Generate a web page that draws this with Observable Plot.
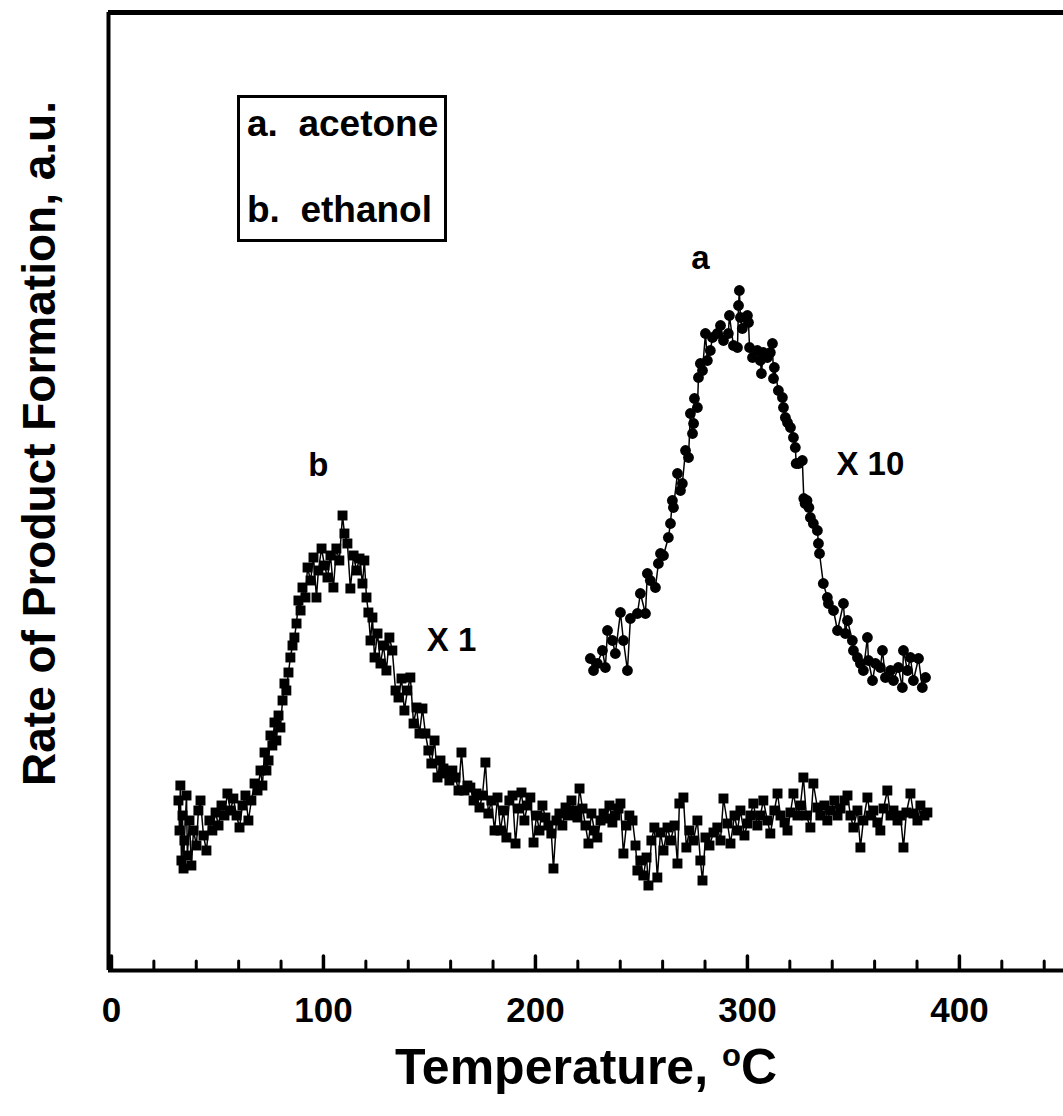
<!DOCTYPE html>
<html>
<head>
<meta charset="utf-8">
<script src="https://cdn.jsdelivr.net/npm/d3@7"></script>
<script src="https://cdn.jsdelivr.net/npm/@observablehq/plot@0.6"></script>
<style>
  body { margin: 0; background: #fff; }
  #wrap { position: relative; width: 1063px; height: 1116px; font-family: "Liberation Sans", Arial, sans-serif; }
  #legend { position: absolute; left: 237px; top: 95px; width: 210px; height: 147px; box-sizing: border-box;
            border: 3px solid #000; background: #fff; }
  #legend div { position: absolute; left: 7px; font-size: 37px; line-height: 37px; font-weight: bold; white-space: pre; color: #000; }
</style>
</head>
<body>
<div id="wrap"></div>
<script>
// ---- Data ----
// b. ethanol (X 1), squares
const tempB = [31.6,32.1,32.5,33.0,33.5,34.0,34.4,35.4,35.8,36.8,37.7,38.7,40.1,41.0,42.0,43.4,44.8,46.2,47.6,49.1,
50.5,51.9,53.3,54.7,56.1,57.5,59.0,60.4,61.8,63.2,64.6,66.0,67.5,68.9,70.3,71.2,72.2,73.1,74.1,75.0,
75.9,76.9,77.8,78.8,79.7,80.7,81.6,82.5,83.5,84.4,85.4,86.3,87.3,88.2,89.2,90.1,91.5,92.5,93.9,95.3,
96.7,97.6,99.1,100.5,101.9,103.3,104.7,106.1,107.5,109.0,109.9,111.3,112.7,114.2,115.6,117.0,118.4,119.3,120.3,121.2,
122.2,123.1,124.1,125.5,126.9,128.3,129.7,131.1,132.5,134.0,135.4,136.8,138.2,139.6,141.0,142.5,143.9,145.3,146.7,148.1,
149.5,150.9,152.4,153.8,155.2,156.6,158.0,159.4,160.8,162.3,163.7,165.1,166.5,167.9,169.3,170.8,172.2,173.6,175.0,176.4,
177.8,179.2,180.7,182.1,183.5,184.9,186.3,187.7,189.2,190.6,192.0,193.4,194.8,196.2,197.6,199.1,200.5,201.9,203.3,204.7,
206.1,207.5,208.5,209.9,211.3,212.7,214.2,215.6,217.0,218.4,219.8,220.8,222.2,223.6,225.0,226.4,227.8,229.2,230.7,232.1,
233.5,234.9,236.3,237.7,239.2,240.1,241.5,242.9,244.3,245.8,247.2,248.1,249.5,250.9,252.4,253.3,254.7,256.1,257.5,259.0,
260.4,262.3,263.7,265.6,267.0,267.9,269.8,271.2,272.6,274.5,276.4,277.8,278.8,280.2,282.1,284.0,285.8,287.3,288.7,290.6,
292.0,293.9,295.3,296.7,298.6,300.0,301.4,302.8,304.7,306.1,307.5,309.4,310.8,312.7,314.2,315.6,317.5,318.9,320.3,321.7,
323.6,325.0,326.4,327.8,329.7,331.1,333.0,334.4,336.3,337.7,339.2,341.0,342.5,343.9,345.8,347.2,348.6,350.0,351.9,353.3,
354.7,356.6,358.0,359.4,361.3,362.7,364.2,366.0,367.5,368.9,370.8,372.2,373.6,375.0,376.9,378.3,380.2,381.6,383.5,384.9];
const rateB = [17.0,14.0,18.5,11.0,15.5,10.2,13.0,17.5,11.5,15.0,10.5,14.0,12.5,16.0,17.0,13.5,12.0,15.0,14.0,15.8,
14.5,16.5,15.5,17.7,16.0,17.2,15.5,14.3,16.5,17.5,15.0,17.0,18.7,18.0,20.0,18.5,21.8,20.0,21.0,23.5,
22.5,24.8,23.0,25.5,24.3,27.0,28.7,28.0,29.8,31.3,32.5,33.3,34.7,37.0,36.0,38.3,37.3,40.3,39.0,41.3,
37.3,40.0,42.2,40.5,39.3,41.5,38.3,42.2,41.0,45.5,43.7,42.7,38.2,41.5,40.0,41.2,38.7,41.0,37.3,35.8,
33.0,35.3,31.3,33.7,30.7,32.5,30.0,33.3,32.0,28.0,27.3,29.2,26.0,28.0,29.3,24.7,26.3,23.7,26.2,23.7,
22.0,20.7,23.0,19.3,21.0,20.2,19.7,19.0,20.0,19.3,18.0,21.8,18.0,18.5,18.3,17.0,17.7,16.3,17.5,20.8,
15.7,17.0,14.0,17.3,14.0,16.0,13.3,17.0,17.5,12.7,16.2,17.8,15.0,16.5,17.3,12.8,15.5,14.0,16.5,15.3,
14.5,13.7,10.2,15.0,15.7,14.5,16.3,15.5,17.0,16.0,15.3,18.2,16.2,14.5,12.7,15.7,14.0,13.3,15.0,15.7,
15.2,16.5,14.8,15.5,16.2,16.7,11.7,14.5,15.5,15.0,12.5,10.0,11.0,9.5,11.3,8.5,13.0,14.3,9.3,13.8,
12.0,14.3,13.0,14.5,10.7,16.7,17.3,12.3,14.0,13.0,15.0,11.0,9.0,13.3,12.5,13.8,14.3,13.0,17.2,14.7,
12.7,15.5,14.0,16.0,13.5,14.7,15.5,16.7,14.5,15.5,17.0,15.0,13.7,16.0,17.7,15.5,14.8,14.0,15.8,17.7,
15.5,16.5,19.3,15.5,14.3,18.7,16.3,15.5,16.5,15.0,16.0,17.0,15.5,16.2,17.0,17.5,15.5,14.3,16.0,12.3,
15.0,17.3,15.5,16.0,14.8,14.0,16.2,18.0,15.5,16.0,15.0,15.5,12.3,15.8,17.7,15.7,15.0,16.5,15.5,15.8];

// a. acetone (X 10), circles
const tempA = [225.9,227.4,229.2,231.6,233.0,234.0,236.3,237.7,240.1,241.5,243.4,244.8,248.1,249.5,251.9,252.8,254.2,256.6,258.0,259.0,
260.4,262.7,263.7,264.6,265.1,267.0,268.4,269.3,270.8,272.2,273.1,274.1,274.6,275.0,276.4,276.9,277.8,278.8,280.2,281.1,
282.5,283.5,285.8,287.3,288.7,291.0,291.5,293.4,295.3,295.8,296.2,296.7,297.6,300.0,300.5,301.0,302.4,304.7,306.1,306.6,
307.5,309.4,310.8,311.8,312.3,312.7,314.6,316.5,317.0,317.9,318.9,320.3,321.7,322.6,323.0,324.1,325.9,326.6,327.2,328.1,
329.0,329.7,331.1,333.0,333.5,334.0,335.8,337.7,338.2,340.6,342.5,345.3,346.2,347.2,349.5,350.0,351.9,353.3,354.7,356.6,
357.1,359.0,360.4,362.7,363.7,365.1,367.5,368.9,371.2,373.1,373.6,375.5,376.9,378.3,380.7,382.5,384.0];
const rateA = [31.2,30.0,30.7,32.0,30.3,34.0,33.0,31.7,35.8,33.0,30.0,35.2,35.7,37.7,35.7,39.7,39.0,38.3,40.7,41.7,
41.5,43.3,44.7,47.0,46.3,49.7,48.0,48.7,52.0,51.3,55.7,53.7,54.7,57.2,56.3,59.3,60.7,60.0,63.7,61.0,
62.0,63.3,63.7,64.5,63.0,63.7,65.5,62.5,62.3,66.5,68.0,65.3,64.2,65.5,64.8,62.3,61.3,62.0,61.0,59.7,
61.8,61.3,61.8,62.7,59.2,60.3,58.0,57.3,56.3,55.3,54.8,54.3,53.3,52.3,50.7,50.7,51.0,47.2,46.7,47.0,
46.3,45.3,44.7,44.0,42.7,41.7,38.7,37.3,36.7,36.0,34.0,36.7,33.7,35.0,33.0,32.0,31.3,30.7,30.0,33.3,
31.0,29.0,30.7,30.3,32.0,29.3,30.0,29.0,30.3,28.3,32.0,30.0,31.3,29.0,31.2,28.3,29.3];

// Axis ticks
const majorTicks = [0, 100, 200, 300, 400];
const minorTicks = [20, 40, 60, 80, 120, 140, 160, 180, 220, 240, 260, 280, 320, 340, 360, 380, 420, 440];

// In-plot annotations
const annLabels = ["a", "b", "X 10", "X 1"];
const annTemp = [277.8, 97.6, 358.0, 160.4];
const annRate = [71.2, 50.5, 50.6, 33.0];

const xLabel = "Temperature, oC";
const yLabel = "Rate of Product Formation, a.u.";

// ---- Build tables ----
const ethanol = tempB.map((t, i) => ({t, v: rateB[i]}));
const acetone = tempA.map((t, i) => ({t, v: rateA[i]}));
const ann = annLabels.map((s, i) => ({s, t: annTemp[i], v: annRate[i]}));

const xDomain = [-1.4, 449.1];
const yDomain = [0, 95.8];

const chart = Plot.plot({
  width: 1063,
  height: 1116,
  marginLeft: 108,
  marginRight: 0,
  marginTop: 12,
  marginBottom: 146,
  x: {domain: xDomain},
  y: {domain: yDomain, axis: null},
  style: {fontFamily: "'Liberation Sans', Arial, sans-serif", color: "#000", background: "#fff", overflow: "visible"},
  marks: [
    Plot.line(ethanol, {x: "t", y: "v", stroke: "#000", strokeWidth: 1.5}),
    Plot.dot(ethanol, {x: "t", y: "v", symbol: "square", r: 5.6, fill: "#000", stroke: "none"}),
    Plot.line(acetone, {x: "t", y: "v", stroke: "#000", strokeWidth: 1.5}),
    Plot.dot(acetone, {x: "t", y: "v", symbol: "circle", r: 5.4, fill: "#000", stroke: "none"}),
    Plot.ruleX(minorTicks, {y1: 0, y2: 0.9, stroke: "#000", strokeWidth: 3, strokeLinecap: "round"}),
    Plot.ruleX(majorTicks, {y1: 0, y2: 1.4, stroke: "#000", strokeWidth: 3.5, strokeLinecap: "round"}),
    Plot.ruleY([yDomain[0]], {stroke: "#000", strokeWidth: 4}),
    Plot.ruleY([yDomain[1]], {stroke: "#000", strokeWidth: 5}),
    Plot.ruleX([xDomain[0]], {stroke: "#000", strokeWidth: 4}),
    Plot.axisX(majorTicks, {tickSize: 0, tickPadding: 27, fontSize: 35, fontWeight: "bold", label: null, fill: "#000"}),
    Plot.text(ann, {x: "t", y: "v", text: "s", fontSize: 33, fontWeight: "bold", fill: "#000"}),
    Plot.text([xLabel], {frameAnchor: "bottom", lineAnchor: "middle", textAnchor: "middle", dy: 97, fontSize: 50, fontWeight: "bold", fill: "#000"}),
    Plot.text([yLabel], {frameAnchor: "left", lineAnchor: "middle", textAnchor: "middle", rotate: -90, dx: -68, dy: -48, fontSize: 46, fontWeight: "bold", fill: "#000"})
  ]
});

// superscript "o" in the x label
chart.querySelectorAll("text").forEach(el => {
  if (el.textContent === xLabel) {
    el.textContent = "Temperature, ";
    const ns = "http://www.w3.org/2000/svg";
    const o = document.createElementNS(ns, "tspan");
    o.setAttribute("dy", "-18");
    o.setAttribute("font-size", "31");
    o.textContent = "o";
    const c = document.createElementNS(ns, "tspan");
    c.setAttribute("dy", "18");
    c.textContent = "C";
    el.appendChild(o);
    el.appendChild(c);
  }
});

const wrap = document.getElementById("wrap");
wrap.appendChild(chart);

// Legend (HTML, overlaid)
const legend = document.createElement("div");
legend.id = "legend";
const legendItems = ["a.  acetone", "b.  ethanol"];
const legendTops = [7, 93];
legendItems.forEach((s, i) => {
  const d = document.createElement("div");
  d.textContent = s;
  d.style.top = legendTops[i] + "px";
  legend.appendChild(d);
});
wrap.appendChild(legend);
</script>
</body>
</html>
